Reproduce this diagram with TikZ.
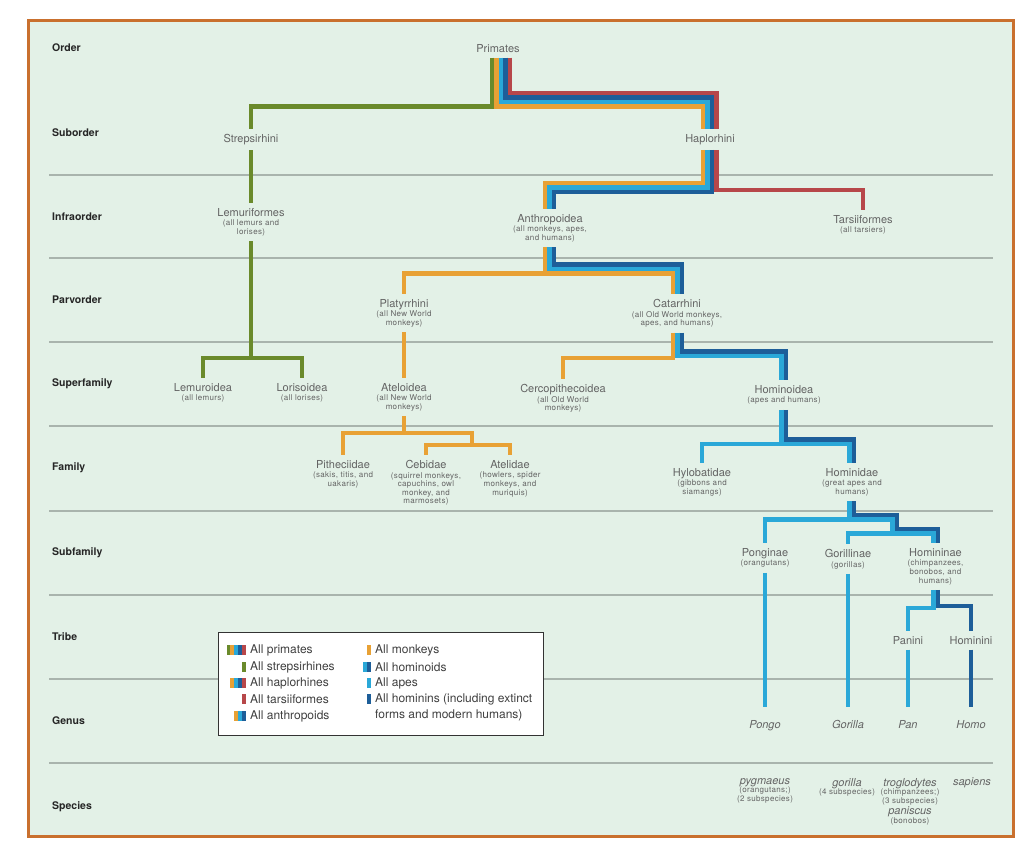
\documentclass[tikz,border=0pt]{standalone}
\usepackage{fontspec}
\setmainfont{TeX Gyre Heros}
\newfontfamily\notefont[LetterSpace=4]{TeX Gyre Heros}

\definecolor{panelMint}{HTML}{E3F1E7}
\definecolor{frameOrange}{HTML}{C9702E}
\definecolor{sepGray}{HTML}{A9B4AD}
\definecolor{strepGreen}{HTML}{6A8A2B}
\definecolor{monkeyOrange}{HTML}{E8A135}
\definecolor{apeBlue}{HTML}{2AA8D8}
\definecolor{hominBlue}{HTML}{1D5E99}
\definecolor{tarsRed}{HTML}{B7474A}
\definecolor{taxInk}{HTML}{646464}
\definecolor{rankInk}{HTML}{262626}

\newcommand{\taxname}[1]{{\normalfont\fontsize{11}{13}\selectfont #1}}

\begin{document}
\begin{tikzpicture}[x=1pt, y=-1pt,
    strand/.style={line width=4.5pt, line cap=butt, line join=miter},
    taxon/.style={anchor=north, yshift=9pt, inner xsep=2pt, inner ysep=5pt, align=center,
        text=taxInk, font=\notefont\fontsize{8}{8.6}\selectfont},
    genus/.style={anchor=north, yshift=18pt, inner xsep=2pt, inner ysep=13pt,
        text=taxInk, font=\fontsize{11}{13}\selectfont\itshape},
    rank/.style={anchor=west, inner sep=0pt, text=rankInk, font=\bfseries\fontsize{10.5}{12}\selectfont},
    legendtext/.style={anchor=west, inner sep=0pt, align=left, text=black!75, font=\fontsize{12}{16.5}\selectfont}
]
    \useasboundingbox (0,0) rectangle (1024,842);
    \fill[white] (0,0) rectangle (1024,842);

    % Panel
    \draw[line width=3pt, frameOrange, fill=panelMint] (28,21) rectangle (1013,836);
    \foreach \y in {175,258,342,426,511,595,679,763}
        \draw[sepGray, line width=1.2pt] (49,\y) -- (993,\y);

    % Ranks
    \node[rank] (rOrder) at (52,48) {Order};
    \node[rank] (rSuborder) at (52,133) {Suborder};
    \node[rank] (rInfra) at (52,217) {Infraorder};
    \node[rank] (rParv) at (52,300) {Parvorder};
    \node[rank] (rSuper) at (52,384) {Superfamily};
    \node[rank] (rFamily) at (52,468) {Family};
    \node[rank] (rSubfam) at (52,553) {Subfamily};
    \node[rank] (rTribe) at (52,637) {Tribe};
    \node[rank] (rGenus) at (52,721) {Genus};
    \node[rank] (rSpecies) at (52,807) {Species};

    % Taxa
    \node[taxon] (prim) at (498,48) {\taxname{Primates}};
    \node[taxon] (strep) at (251,138) {\taxname{Strepsirhini}};
    \node[taxon] (hapl) at (710,138) {\taxname{Haplorhini}};
    \node[taxon] (lemf) at (251,212) {\taxname{Lemuriformes}\\[1pt](all lemurs and\\lorises)};
    \node[taxon] (anth) at (550,218) {\taxname{Anthropoidea}\\[1pt](all monkeys, apes,\\and humans)};
    \node[taxon] (tars) at (863,219) {\taxname{Tarsiiformes}\\[1pt](all tarsiers)};
    \node[taxon] (plat) at (404,303) {\taxname{Platyrrhini}\\[1pt](all New World\\monkeys)};
    \node[taxon] (cata) at (677,303) {\taxname{Catarrhini}\\[1pt](all Old World monkeys,\\apes, and humans)};
    \node[taxon] (lemu) at (203,387) {\taxname{Lemuroidea}\\[1pt](all lemurs)};
    \node[taxon] (lori) at (302,387) {\taxname{Lorisoidea}\\[1pt](all lorises)};
    \node[taxon] (atel) at (404,387) {\taxname{Ateloidea}\\[1pt](all New World\\monkeys)};
    \node[taxon] (cerc) at (563,388) {\taxname{Cercopithecoidea}\\[1pt](all Old World\\monkeys)};
    \node[taxon] (hoid) at (784,389) {\taxname{Hominoidea}\\[1pt](apes and humans)};
    \node[taxon] (pith) at (343,464) {\taxname{Pitheciidae}\\[1pt](sakis, titis, and\\uakaris)};
    \node[taxon] (cebi) at (426,464) {\taxname{Cebidae}\\[1pt](squirrel monkeys,\\capuchins, owl\\monkey, and\\marmosets)};
    \node[taxon] (ateli) at (510,464) {\taxname{Atelidae}\\[1pt](howlers, spider\\monkeys, and\\muriquis)};
    \node[taxon] (hylo) at (702,472) {\taxname{Hylobatidae}\\[1pt](gibbons and\\siamangs)};
    \node[taxon] (hdae) at (852,472) {\taxname{Hominidae}\\[1pt](great apes and\\humans)};
    \node[taxon] (pong) at (765,552) {\taxname{Ponginae}\\[1pt](orangutans)};
    \node[taxon] (gori) at (848,553) {\taxname{Gorillinae}\\[1pt](gorillas)};
    \node[taxon] (hnae) at (935.5,552) {\taxname{Homininae}\\[1pt](chimpanzees,\\bonobos, and\\humans)};
    \node[taxon] (pani) at (908,640) {\taxname{Panini}};
    \node[taxon] (hini) at (971,640) {\taxname{Hominini}};

    % Genera
    \node[genus] (gPongo) at (765,725) {Pongo};
    \node[genus] (gGorilla) at (848,725) {Gorilla};
    \node[genus] (gPan) at (908,725) {Pan};
    \node[genus] (gHomo) at (971,725) {Homo};

    % Species
    \node[taxon] (sPyg) at (765,782) {\taxname{\itshape pygmaeus}\\(orangutans;)\\(2 subspecies)};
    \node[taxon] (sGor) at (847,782) {\taxname{\itshape gorilla}\\(4 subspecies)};
    \node[taxon] (sTrog) at (910,782) {\taxname{\itshape troglodytes}\\(chimpanzees;)\\(3 subspecies)\\[1pt]\taxname{\itshape paniscus}\\(bonobos)};
    \node[taxon] (sSap) at (972,782) {\taxname{\itshape sapiens}};

    % Primates to suborders
    \draw[strand, strepGreen] (prim.south -| 492,0) |- (251,106.5) -- (strep.north);
    \draw[strand, monkeyOrange] (prim.south -| 496.5,0) |- (703,106.5) -- (hapl.north -| 703,0);
    \draw[strand, apeBlue] (prim.south -| 501,0) |- (707.5,102) -- (hapl.north -| 707.5,0);
    \draw[strand, hominBlue] (prim.south -| 505.5,0) |- (712,97.5) -- (hapl.north -| 712,0);
    \draw[strand, tarsRed] (prim.south -| 510,0) |- (716.5,93) -- (hapl.north -| 716.5,0);

    % Strepsirhini branch
    \draw[strand, strepGreen] (strep.south) -- (lemf.north);
    \draw[strand, strepGreen] (lemf.south) |- (203,358) -- (lemu.north);
    \draw[strand, strepGreen] (lemf.south) |- (302,358) -- (lori.north);

    % Haplorhini to infraorders
    \draw[strand, monkeyOrange] (hapl.south -| 703,0) |- (545,183) -- (anth.north -| 545,0);
    \draw[strand, apeBlue] (hapl.south -| 707.5,0) |- (549.5,187.5) -- (anth.north -| 549.5,0);
    \draw[strand, hominBlue] (hapl.south -| 712,0) |- (554,192) -- (anth.north -| 554,0);
    \draw[strand, tarsRed] (hapl.south -| 716.5,0) |- (863,190) -- (tars.north);

    % Anthropoidea to parvorders
    \draw[strand, monkeyOrange] (anth.south -| 545,0) |- (404,273.5) -- (plat.north);
    \draw[strand, monkeyOrange] (anth.south -| 545,0) |- (673,273.5) -- (cata.north -| 673,0);
    \draw[strand, apeBlue] (anth.south -| 549.5,0) |- (677.5,269) -- (cata.north -| 677.5,0);
    \draw[strand, hominBlue] (anth.south -| 554,0) |- (682,264.5) -- (cata.north -| 682,0);

    % New World monkeys
    \draw[strand, monkeyOrange] (plat.south) -- (atel.north);
    \coordinate (atelFork) at (472,445);
    \draw[strand, monkeyOrange] (atel.south) |- (343,433) -- (pith.north);
    \draw[strand, monkeyOrange] (atel.south) |- (472,433) -- (atelFork);
    \draw[strand, monkeyOrange] (atelFork) -| (cebi.north);
    \draw[strand, monkeyOrange] (atelFork) -| (ateli.north);

    % Catarrhini to superfamilies
    \draw[strand, monkeyOrange] (cata.south -| 673,0) |- (563,358) -- (cerc.north);
    \draw[strand, apeBlue] (cata.south -| 677.5,0) |- (781.5,356) -- (hoid.north -| 781.5,0);
    \draw[strand, hominBlue] (cata.south -| 682,0) |- (786,351.5) -- (hoid.north -| 786,0);

    % Hominoidea to families
    \draw[strand, apeBlue] (hoid.south -| 781.5,0) |- (702,444) -- (hylo.north);
    \draw[strand, apeBlue] (hoid.south -| 781.5,0) |- (849.5,444) -- (hdae.north -| 849.5,0);
    \draw[strand, hominBlue] (hoid.south -| 786,0) |- (854,439.5) -- (hdae.north -| 854,0);

    % Hominidae to subfamilies
    \coordinate (apeFork) at (892.5,533.5);
    \draw[strand, apeBlue] (hdae.south -| 849.5,0) |- (765,519.5) -- (pong.north);
    \draw[strand, apeBlue] (hdae.south -| 849.5,0) |- (892.5,519.5) -- (apeFork) -| (gori.north);
    \draw[strand, apeBlue] (apeFork) -| (hnae.north -| 933.5,0);
    \draw[strand, hominBlue] (hdae.south -| 854,0) |- (897,515) |- (938,529) -- (hnae.north -| 938,0);

    % Homininae to tribes
    \draw[strand, apeBlue] (hnae.south -| 933.5,0) |- (908,608) -- (pani.north);
    \draw[strand, hominBlue] (hnae.south -| 938,0) |- (971,606) -- (hini.north);

    % Genera
    \draw[strand, apeBlue] (pong.south) -- (gPongo.north);
    \draw[strand, apeBlue] (gori.south) -- (gGorilla.north);
    \draw[strand, apeBlue] (pani.south) -- (gPan.north);
    \draw[strand, hominBlue] (hini.south) -- (gHomo.north);

    % Legend
    \draw[black!80, line width=0.8pt, fill=white] (218,632) rectangle (543,735);
    \foreach \c [count=\i] in {strepGreen,monkeyOrange,apeBlue,hominBlue,tarsRed}
        \fill[\c] (222.6+3.9*\i,645) rectangle ++(3.9,10);
    \fill[strepGreen] (242.1,662) rectangle ++(3.9,10);
    \foreach \c [count=\i] in {monkeyOrange,apeBlue,hominBlue,tarsRed}
        \fill[\c] (226.5+3.9*\i,678) rectangle ++(3.9,10);
    \fill[tarsRed] (242.1,694) rectangle ++(3.9,10);
    \foreach \c [count=\i] in {monkeyOrange,apeBlue,hominBlue}
        \fill[\c] (230.4+3.9*\i,711) rectangle ++(3.9,10);
    \fill[monkeyOrange] (367.1,645) rectangle ++(3.9,10);
    \fill[apeBlue] (363.2,662) rectangle ++(3.9,10);
    \fill[hominBlue] (367.1,662) rectangle ++(3.9,10);
    \fill[apeBlue] (367.1,678) rectangle ++(3.9,10);
    \fill[hominBlue] (367.1,694) rectangle ++(3.9,10);

    \node[legendtext] (lgPrim) at (250,650) {All primates};
    \node[legendtext] (lgStrep) at (250,667) {All strepsirhines};
    \node[legendtext] (lgHapl) at (250,683) {All haplorhines};
    \node[legendtext] (lgTars) at (250,699) {All tarsiiformes};
    \node[legendtext] (lgAnth) at (250,716) {All anthropoids};
    \node[legendtext] (lgMonk) at (375,650) {All monkeys};
    \node[legendtext] (lgHoid) at (375,667) {All hominoids};
    \node[legendtext] (lgApes) at (375,683) {All apes};
    \node[legendtext] (lgHmin) at (375,707.5) {All hominins (including extinct\\forms and modern humans)};
\end{tikzpicture}
\end{document}
